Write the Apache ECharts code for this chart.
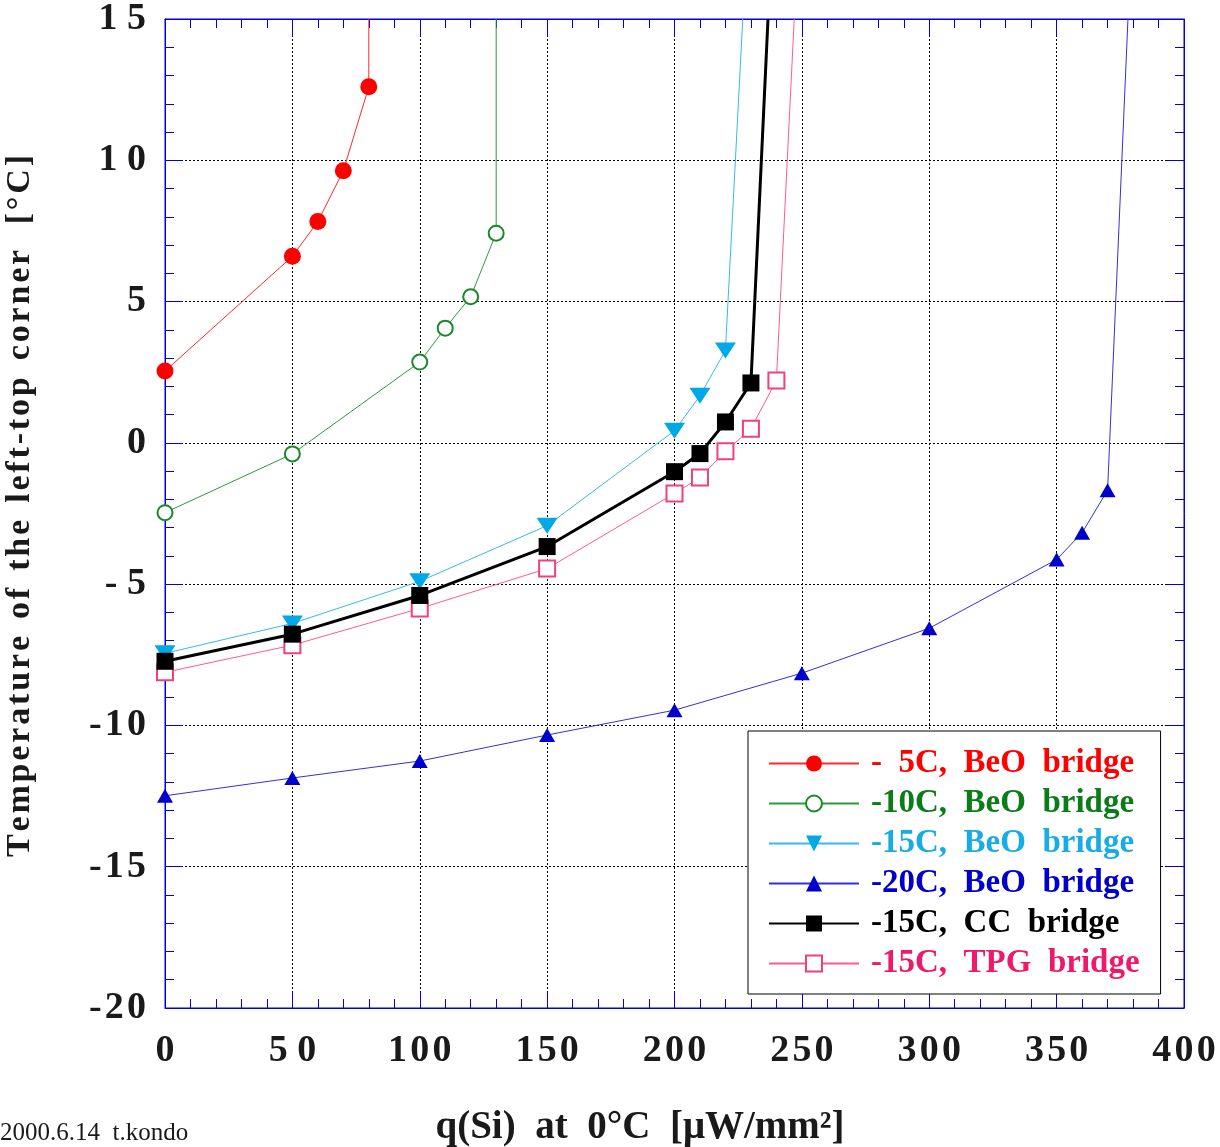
<!DOCTYPE html>
<html>
<head>
<meta charset="utf-8">
<script src="https://cdn.jsdelivr.net/npm/echarts@6/dist/echarts.min.js"></script>
<style>
html, body { margin: 0; padding: 0; background: #fff; }
#chart { width: 1220px; height: 1147px; }
</style>
</head>
<body>
<div id="chart"></div>
<script>
// q(Si) [uW/mm2] vs temperature of the left-top corner [C]
const seriesNames = [
    '-  5C,  BeO  bridge',
    '-10C,  BeO  bridge',
    '-15C,  BeO  bridge',
    '-20C,  BeO  bridge',
    '-15C,  CC  bridge',
    '-15C,  TPG  bridge',
]

const qBeO5 = [0, 50, 60, 70, 80]
const tBeO5 = [2.54, 6.6, 7.83, 9.63, 12.6]

const qBeO10 = [0, 50, 100, 110, 120, 130]
const tBeO10 = [-2.47, -0.39, 2.86, 4.06, 5.17, 7.42]

const qBeO15 = [0, 50, 100, 150, 200, 210, 220]
const tBeO15 = [-7.45, -6.39, -4.9, -2.93, 0.43, 1.67, 3.27]

const qBeO20 = [0, 50, 100, 150, 200, 250, 300, 350, 360, 370]
const tBeO20 = [-12.49, -11.86, -11.26, -10.34, -9.46, -8.15, -6.56, -4.13, -3.18, -1.68]

const qCC15 = [0, 50, 100, 150, 200, 210, 220, 230]
const tCC15 = [-7.73, -6.77, -5.4, -3.67, -1.02, -0.38, 0.74, 2.12]

const qTPG15 = [0, 50, 100, 150, 200, 210, 220, 230, 240]
const tTPG15 = [-8.12, -7.16, -5.86, -4.45, -1.79, -1.23, -0.3, 0.5, 2.21]

// where each curve leaves the top of the frame (runaway)
const exitQ = [80, 130, 226.8, 378, 236.7, 247]

const xTickLabels = ['0', '5 0', '1\u200a0\u200a0', '1\u200a5\u200a0', '2\u200a0\u200a0', '2\u200a5\u200a0', '3\u200a0\u200a0', '3\u200a5\u200a0', '4\u200a0\u200a0']
const yTickLabels = ['-\u200a2\u200a0', '-\u200a1\u200a5', '-\u200a1\u200a0', '- 5', '0', '5', '1 0', '1 5']

const xMin = 0, xMax = 400, xStep = 50
const yMin = -20, yMax = 15, yStep = 5

const serif = '"Liberation Serif", "Times New Roman", serif'
const frameBlue = '#0000e0'

function buildData(xs, ys, exitX) {
    const pts = xs.map((x, i) => [x, ys[i]])
    pts.push({ value: [exitX, yMax], symbol: 'none' })
    return pts
}

// spread the letters of each word a little, like the original lettering
function track(s) {
    return s.split(' ').map((w) => w.split('').join('\u200a')).join(' ')
}

const looks = [
    { symbol: 'circle', size: 17, color: '#ff0000', line: '#ff2a2a', width: 1, text: '#ff0000' },
    { symbol: 'emptyCircle', size: 15, color: '#18882a', line: '#2a9a3c', width: 1, text: '#0b7d18' },
    { symbol: 'path://M0,0L20,0L10,16Z', size: [21, 16], color: '#00a8e6', line: '#3ab8ea', width: 1, text: '#18ace4' },
    { symbol: 'triangle', size: [16, 14], color: '#0000cc', line: '#3030e0', width: 1, text: '#0000c8' },
    { symbol: 'rect', size: 17, color: '#000000', line: '#000000', width: 3, text: '#000000' },
    { symbol: 'emptyRect', size: 16, color: '#f0407f', line: '#ff5a90', width: 1, text: '#f0186a' },
]

const xsAll = [qBeO5, qBeO10, qBeO15, qBeO20, qCC15, qTPG15]
const ysAll = [tBeO5, tBeO10, tBeO15, tBeO20, tCC15, tTPG15]

const series = seriesNames.map((name, i) => ({
    name,
    type: 'line',
    data: buildData(xsAll[i], ysAll[i], exitQ[i]),
    symbol: looks[i].symbol,
    symbolSize: looks[i].size,
    showAllSymbol: true,
    clip: true,
    itemStyle: { color: looks[i].color, borderWidth: 1.3 },
    lineStyle: { color: looks[i].line, width: looks[i].width },
    emphasis: { disabled: true },
    z: i === 4 ? 4 : 3,
}))

const tickStyle = { color: frameBlue, width: 1 }

function frameAxis(position) {
    return {
        type: 'value',
        position,
        axisLine: { show: true, onZero: false, lineStyle: tickStyle },
        axisTick: { show: true, inside: true, length: 17, lineStyle: tickStyle },
        minorTick: { show: true, splitNumber: 5, length: 9, lineStyle: tickStyle },
        splitLine: { show: false },
        axisLabel: { show: false },
    }
}

const chart = echarts.init(document.getElementById('chart'))
chart.setOption({
    animation: false,
    backgroundColor: '#ffffff',
    grid: { left: 165, top: 16, right: 36, bottom: 139, show: true, borderColor: frameBlue, borderWidth: 1 },
    legend: {
        orient: 'vertical',
        left: 748,
        top: 731,
        padding: [16, 21, 14, 20],
        itemWidth: 90,
        itemHeight: 20,
        itemGap: 7,
        backgroundColor: '#ffffff',
        borderColor: '#000000',
        borderWidth: 1,
        selectedMode: false,
        textStyle: { fontFamily: serif, fontWeight: 'bold', fontSize: 33, lineHeight: 32, padding: [0, 0, 0, 7] },
        data: seriesNames.map((name, i) => ({ name, textStyle: { color: looks[i].text } })),
    },
    xAxis: [
        Object.assign(frameAxis('bottom'), {
            min: xMin, max: xMax, interval: xStep,
            splitLine: { show: true, lineStyle: { color: '#000000', width: 1, type: [2, 2] } },
            axisLabel: {
                margin: 24, fontSize: 38, fontWeight: 'bold', fontFamily: serif, color: '#1a1a1a',
                formatter: (v) => xTickLabels[Math.round((v - xMin) / xStep)],
            },
        }),
        Object.assign(frameAxis('top'), { min: xMin, max: xMax, interval: xStep }),
    ],
    yAxis: [
        Object.assign(frameAxis('left'), {
            min: yMin, max: yMax, interval: yStep,
            splitLine: { show: true, lineStyle: { color: '#000000', width: 1, type: [2, 2] } },
            axisLabel: {
                margin: 19, fontSize: 38, fontWeight: 'bold', fontFamily: serif, color: '#1a1a1a',
                formatter: (v) => yTickLabels[Math.round((v - yMin) / yStep)],
            },
        }),
        Object.assign(frameAxis('right'), { min: yMin, max: yMax, interval: yStep }),
    ],
    graphic: [
        {
            type: 'text', x: 20, y: 506, rotation: Math.PI / 2,
            style: {
                text: track('Temperature  of  the  left-top  corner   [°C]'),
                font: 'bold 34px ' + serif, fill: '#1a1a1a', align: 'center', verticalAlign: 'middle',
            },
        },
        {
            type: 'text', x: 640, y: 1128,
            style: {
                text: 'q(Si)  at  0°C  [μW/mm²]',
                font: 'bold 39px ' + serif, fill: '#1a1a1a', align: 'center', verticalAlign: 'middle',
            },
        },
        {
            type: 'text', x: 0, y: 1133,
            style: {
                text: '2000.6.14  t.kondo',
                font: '25px ' + serif, fill: '#1a1a1a', align: 'left', verticalAlign: 'middle',
            },
        },
    ],
    series,
})
window.addEventListener('resize', () => chart.resize())
</script>
</body>
</html>
